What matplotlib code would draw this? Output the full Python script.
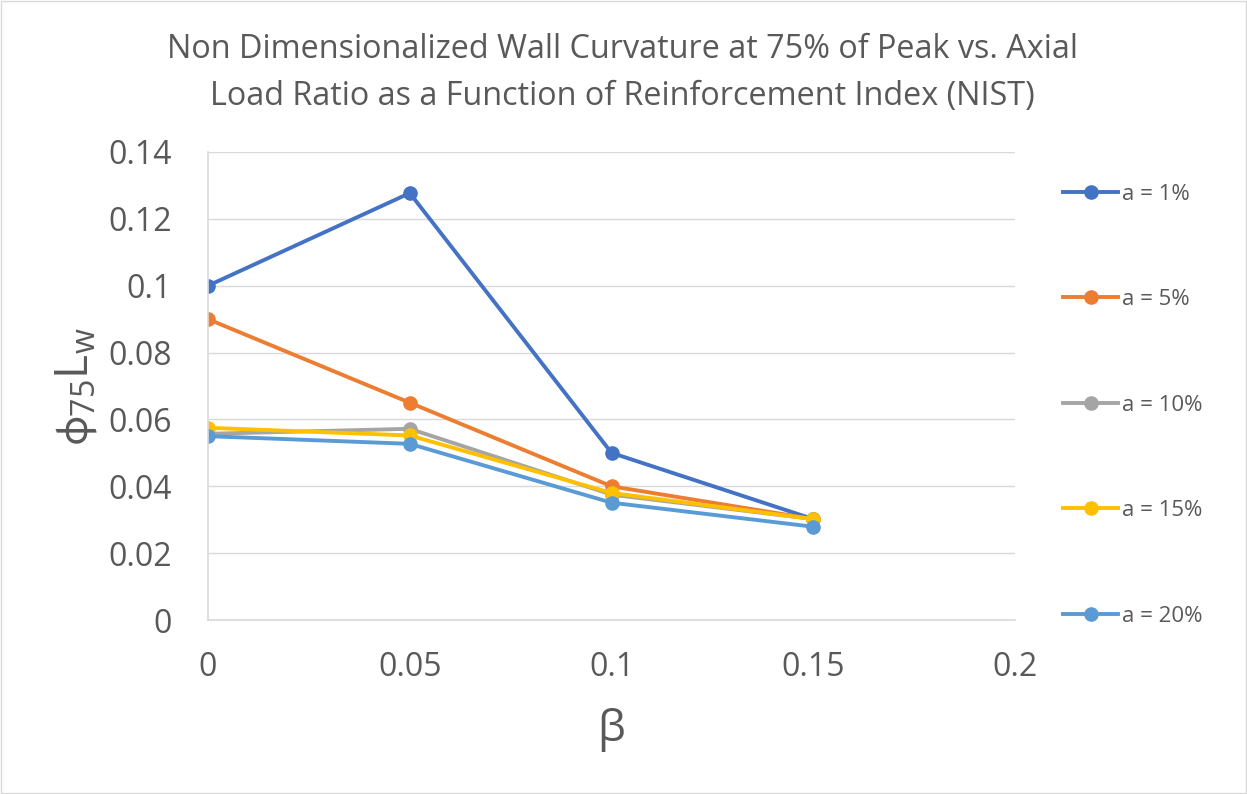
import matplotlib.pyplot as plt
from matplotlib.patches import Rectangle

# Dados
beta = [0, 0.05, 0.1, 0.15]
a_1 = [0.1, 0.1277, 0.05, 0.0302]
a_5 = [0.09, 0.065, 0.0400, 0.0302]
a_10 = [0.0557, 0.0572, 0.0375, 0.0302]
a_15 = [0.0575, 0.0552, 0.0380, 0.0302]
a_20 = [0.0550, 0.0527, 0.0351, 0.0279]

series = [
    ('a = 1%', a_1, '#4472C4'),
    ('a = 5%', a_5, '#ED7D31'),
    ('a = 10%', a_10, '#A5A5A5'),
    ('a = 15%', a_15, '#FFC000'),
    ('a = 20%', a_20, '#5B9BD5'),
]

plt.rcParams['font.family'] = ['Open Sans', 'DejaVu Sans']
plt.rcParams['mathtext.fontset'] = 'custom'
plt.rcParams['mathtext.rm'] = 'Open Sans'
plt.rcParams['mathtext.it'] = 'Open Sans'
plt.rcParams['mathtext.fallback'] = 'stixsans'
texto = '#595959'

fig = plt.figure(figsize=(12.47, 7.94), dpi=100)
ax = fig.add_axes([0.1668, 0.2191, 0.6472, 0.5895])

for nome, valores, cor in series:
    ax.plot(beta, valores, color=cor, lw=2.8, marker='o', markersize=9.5, label=nome)

ax.set_xlim(0, 0.2)
ax.set_ylim(0, 0.14)
ax.set_xticks([0, 0.05, 0.1, 0.15, 0.2])
ax.set_xticklabels(['0', '0.05', '0.1', '0.15', '0.2'])
ax.set_yticks([0, 0.02, 0.04, 0.06, 0.08, 0.1, 0.12, 0.14])
ax.set_yticklabels(['0', '0.02', '0.04', '0.06', '0.08', '0.1', '0.12', '0.14'])
ax.tick_params(length=0, labelsize=23, colors=texto)
ax.tick_params(axis='y', pad=26)
ax.tick_params(axis='x', pad=22)
ax.grid(axis='y', color='#d9d9d9', lw=1)
ax.set_axisbelow(True)
for lado in ['top', 'right']:
    ax.spines[lado].set_visible(False)
for lado in ['left', 'bottom']:
    ax.spines[lado].set_color('#d9d9d9')
    ax.spines[lado].set_linewidth(1.2)

ax.set_xlabel('β', fontsize=32, color=texto, labelpad=17)
ax.set_ylabel(r'$\mathrm{ϕ_{75}L_w}$', fontsize=33, color=texto, labelpad=6)

fig.text(0.499, 0.908, 'Non Dimensionalized Wall Curvature at 75% of Peak vs. Axial\n'
         'Load Ratio as a Function of Reinforcement Index (NIST)',
         ha='center', va='center', fontsize=23.3, color=texto, linespacing=1.55)

leg = ax.legend(loc='upper left', bbox_to_anchor=(1.06, 0.932), frameon=False,
                fontsize=16, labelspacing=3.8, handlelength=2.45, handletextpad=0.2,
                borderpad=0, borderaxespad=0, labelcolor=texto)

fig.add_artist(Rectangle((0.001, 0.001), 0.998, 0.998, transform=fig.transFigure,
                         fill=False, edgecolor='#d9d9d9', lw=1))

fig.savefig('out.png', dpi=100)
